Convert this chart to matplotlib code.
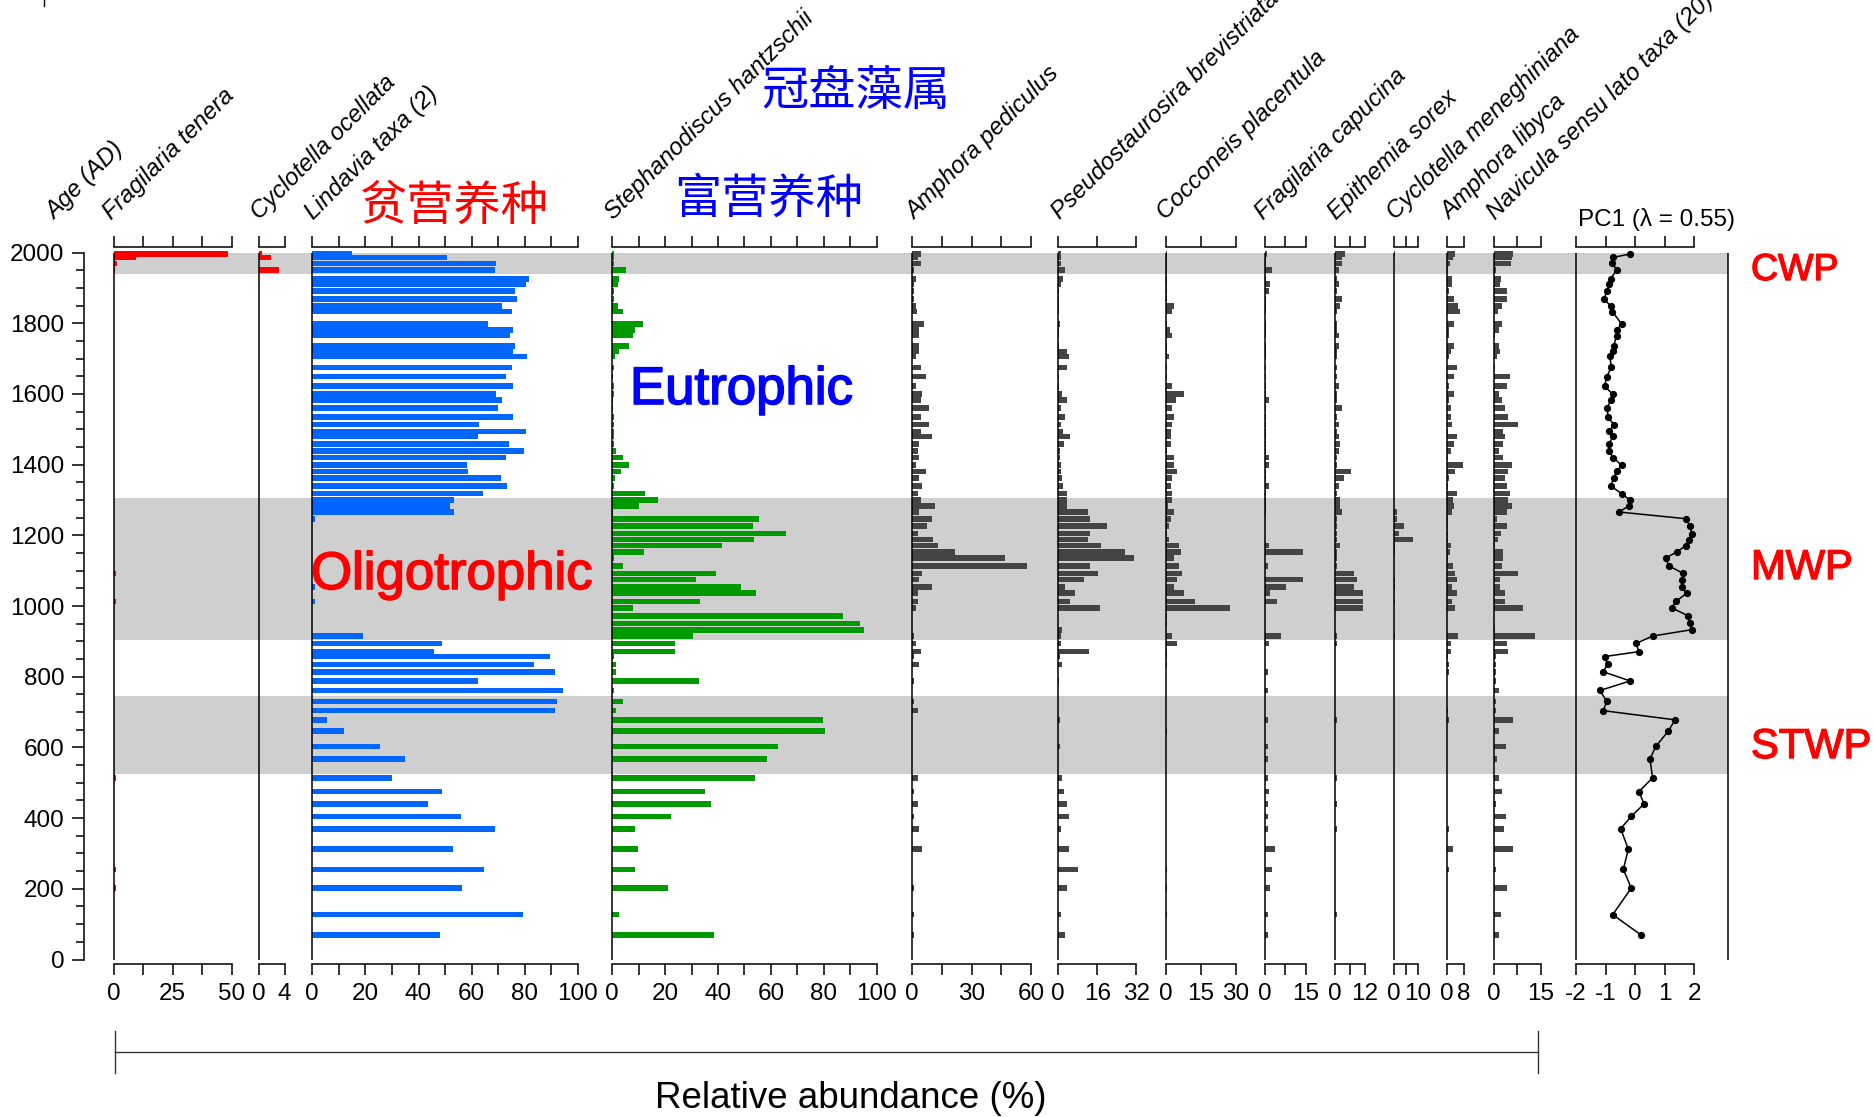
import matplotlib
matplotlib.use("Agg")
import matplotlib.pyplot as plt
import matplotlib.patheffects as pe
from matplotlib.lines import Line2D
from matplotlib.ticker import FixedLocator, FixedFormatter, MultipleLocator

# ---------------------------------------------------------------- data
ages = [1996, 1986, 1969, 1951, 1926, 1911, 1891, 1868, 1848, 1833,
        1798, 1780, 1765, 1736, 1720, 1706, 1675, 1649, 1622, 1599,
        1582, 1561, 1535, 1513, 1494, 1480, 1459, 1438, 1420, 1398,
        1381, 1362, 1340, 1318, 1300, 1283, 1266, 1247, 1227, 1205,
        1188, 1171, 1153, 1136, 1114, 1092, 1075, 1053, 1036, 1013,
        995, 972, 951, 933, 915, 894, 871, 857, 835, 814,
        788, 761, 730, 704, 678, 646, 603, 567, 514, 475,
        440, 405, 370, 312, 255, 202, 127, 70]

fragilaria_tenera = [48.3, 9.4, 1.4, 0.7, 0, 0, 0, 0, 0, 0,
                     0, 0, 0, 0, 0, 0, 0, 0, 0, 0,
                     0, 0, 0, 0, 0, 0, 0, 0, 0, 0,
                     0, 0, 0, 0, 0, 0, 0, 0, 0, 0,
                     0, 0, 0, 0, 0, 0.8, 0, 0, 0, 0.8,
                     0, 0, 0, 0, 0, 0, 0, 0, 0, 0,
                     0, 0, 0, 0, 0, 0, 0, 0, 0.8, 0,
                     0, 0, 0, 0, 0.8, 0.8, 0, 0]

cyclotella_ocellata = [0.5, 1.9, 0, 3.1, 0, 0, 0, 0, 0, 0,
                       0, 0, 0, 0, 0, 0, 0, 0, 0, 0,
                       0, 0, 0, 0, 0, 0, 0, 0, 0, 0,
                       0, 0, 0, 0, 0, 0, 0, 0, 0, 0,
                       0, 0, 0, 0, 0, 0, 0, 0, 0, 0,
                       0, 0, 0, 0, 0, 0, 0, 0, 0, 0,
                       0, 0, 0, 0, 0, 0, 0, 0, 0, 0,
                       0, 0, 0, 0, 0, 0, 0, 0]

lindavia = [14.9, 50.6, 69.3, 68.7, 81.5, 80.3, 76.3, 76.9, 71.6, 75.1,
            66.3, 75.7, 74.5, 76.3, 75.7, 80.9, 75.1, 72.9, 75.7, 69.3,
            71.6, 70.0, 75.7, 62.9, 80.3, 62.3, 73.9, 79.7, 72.9, 58.2,
            58.8, 71.1, 73.3, 64.1, 53.5, 51.8, 53.5, 0.9, 0, 0,
            0, 0, 0, 0, 0, 0, 0, 0.9, 0, 0.9,
            0, 0, 0, 0, 19.0, 48.8, 46.0, 89.6, 83.3, 91.5,
            62.3, 94.5, 92.1, 91.5, 5.6, 12.0, 25.4, 34.8, 30.0, 48.8,
            43.6, 55.9, 68.7, 53.0, 64.7, 56.5, 79.3, 48.2]

stephanodiscus = [0.8, 0.8, 0.5, 5.1, 2.7, 2.0, 0.8, 0.8, 2.0, 3.9,
                  11.5, 8.5, 8.0, 6.2, 2.7, 1.2, 0.8, 0.3, 0.8, 0.8,
                  0.3, 0.3, 0.8, 0.8, 0.8, 0.8, 0.8, 1.3, 4.1, 6.2,
                  3.2, 1.2, 0.8, 12.4, 17.3, 10.2, 0.3, 55.6, 53.2, 65.6,
                  53.7, 41.5, 12.0, 0.8, 3.9, 39.1, 31.5, 48.6, 54.4, 33.2,
                  8.0, 87.4, 93.8, 95.1, 30.4, 23.8, 23.8, 0.8, 1.3, 1.3,
                  32.7, 0.8, 3.9, 1.3, 79.7, 80.4, 62.7, 58.5, 53.9, 35.1,
                  37.3, 22.1, 8.6, 9.7, 8.6, 21.0, 2.7, 38.6]

amphora_pediculus = [4.2, 3.0, 4.2, 0.9, 1.8, 0.9, 0.9, 0.9, 1.8, 2.5,
                     5.9, 3.5, 3.5, 3.5, 3.5, 1.8, 4.2, 6.7, 1.8, 5.0,
                     4.2, 8.2, 4.2, 8.2, 4.2, 9.9, 3.5, 2.7, 3.5, 1.8,
                     6.7, 3.5, 5.0, 2.7, 4.2, 11.4, 3.5, 9.9, 7.5, 2.7,
                     10.7, 13.1, 21.7, 46.8, 57.8, 5.0, 3.5, 9.9, 2.7, 2.7,
                     1.8, 0, 0, 0, 0.9, 1.8, 4.2, 0.9, 3.5, 0,
                     0.9, 0, 0.9, 2.7, 0, 0, 0, 0, 2.7, 0.9,
                     2.7, 0.9, 3.5, 5.0, 0, 0.9, 0.9, 0.9]

pseudostaurosira = [1.0, 1.0, 1.0, 2.9, 2.1, 1.0, 0.3, 0.3, 0.3, 0.3,
                    0.7, 0.3, 0.3, 0.3, 3.4, 4.2, 3.4, 0.3, 0.3, 1.5,
                    3.4, 1.0, 2.9, 1.0, 2.1, 4.8, 2.3, 0.7, 0.7, 1.0,
                    1.0, 1.5, 2.1, 3.4, 3.4, 3.4, 12.3, 13.0, 20.0, 13.0,
                    12.3, 17.5, 27.2, 31.0, 13.0, 16.4, 10.5, 2.9, 6.7, 4.8,
                    17.1, 0, 0, 1.6, 1.0, 1.0, 12.7, 0.7, 1.6, 0,
                    0.3, 0, 0, 0, 0.7, 0, 0.7, 0, 1.6, 2.3,
                    3.6, 4.2, 1.0, 4.2, 8.1, 3.6, 1.0, 2.9]

cocconeis = [0.5, 0.5, 0.5, 0.5, 0.6, 0.6, 0.6, 0.7, 3.5, 2.8,
             0.5, 1.8, 2.8, 0.5, 0.5, 1.3, 0.5, 0.5, 2.8, 7.7,
             4.3, 2.8, 3.5, 2.8, 2.3, 2.3, 2.3, 0.5, 3.5, 3.5,
             4.9, 2.8, 2.3, 2.8, 2.8, 1.0, 3.5, 2.3, 1.6, 0.7,
             1.6, 5.6, 6.4, 3.5, 5.6, 7.0, 4.9, 3.5, 7.7, 12.4,
             27.6, 0.7, 0.7, 0, 2.8, 4.9, 0.5, 0.5, 0.5, 0,
             0, 0, 0, 0, 0, 0.5, 0, 0, 0, 0,
             0, 0, 0, 0, 0.4, 0.4, 0.4, 0]

fragilaria_capucina = [0.5, 0.3, 0.3, 2.5, 0.3, 1.9, 1.3, 0.3, 0.3, 0.3,
                       0.3, 0.3, 0.3, 0.3, 0.3, 0.3, 0.3, 0.3, 0.3, 0.3,
                       1.2, 0.3, 0.3, 0.3, 0.3, 0.3, 0.3, 0.3, 1.2, 1.2,
                       0.3, 0.3, 1.2, 0.3, 0.3, 0.3, 0.3, 0, 0, 0,
                       0, 1.5, 14.1, 0, 0.9, 0, 14.1, 7.7, 1.9, 4.2,
                       0, 0, 0, 0, 6.0, 1.3, 0, 0, 0, 0.9,
                       0, 0.9, 0, 0, 0.9, 0, 0.9, 0.9, 0.9, 1.3,
                       0.9, 0.9, 0.9, 3.7, 2.5, 1.9, 0.9, 0.9]

epithemia = [4.1, 2.8, 2.8, 1.4, 0.5, 1.4, 0.5, 2.8, 1.9, 0.5,
             0.6, 0.5, 1.4, 1.4, 0.5, 0.5, 0.5, 0.5, 1.4, 0.5,
             0.5, 2.8, 0.5, 1.4, 0.5, 1.4, 2.0, 1.4, 0.5, 0.5,
             6.4, 3.4, 1.4, 0.5, 2.0, 2.0, 2.8, 0.5, 0.5, 0.5,
             0.5, 2.0, 0.5, 0.5, 0.5, 7.7, 8.8, 7.7, 11.5, 11.5,
             11.5, 0, 0, 0, 0.8, 0.8, 0, 0, 0, 0,
             0, 0, 0, 0, 0.5, 0, 0, 0, 0.5, 0,
             0.5, 0, 0.5, 0, 0, 0, 0.8, 0]

cyclotella_meneghiniana = [0.6, 0, 0, 0, 0, 0, 0, 0, 0, 0,
                           0, 0, 0, 0, 0, 0, 0, 0, 0, 0,
                           0, 0, 0, 0, 0, 0, 0, 0, 0, 0,
                           0, 0, 0, 0, 0, 0, 1.3, 1.3, 4.2, 2.3,
                           8.2, 0.6, 0.6, 0, 0, 0, 0.4, 0.4, 0, 0.4,
                           0, 0, 0, 0, 0.4, 0, 0, 0, 0, 0,
                           0, 0, 0, 0, 0, 0, 0, 0, 0, 0,
                           0, 0, 0, 0, 0, 0, 0, 0]

amphora_libyca = [3.8, 2.7, 1.5, 0.7, 2.4, 2.4, 1.1, 3.3, 5.3, 6.0,
                  3.3, 1.1, 1.1, 3.3, 1.8, 1.1, 4.9, 3.3, 1.1, 3.3,
                  1.1, 1.8, 1.8, 2.4, 0.7, 4.9, 3.3, 1.8, 0.7, 7.5,
                  4.0, 0.8, 0.7, 4.9, 2.7, 3.3, 2.4, 0.7, 0.7, 0.7,
                  0.7, 1.8, 1.3, 0.7, 2.7, 4.0, 4.9, 2.4, 4.9, 2.4,
                  4.0, 0, 0, 0, 5.0, 1.8, 1.8, 0.7, 1.1, 1.1,
                  0, 0, 0, 0.7, 1.1, 0, 0, 0, 0, 0,
                  0, 0, 1.1, 2.7, 1.1, 0, 0, 0]

navicula = [6.3, 5.7, 5.5, 0.7, 2.2, 2.0, 4.1, 4.1, 2.8, 1.5,
            2.8, 1.7, 0.4, 1.7, 2.0, 1.2, 0.4, 5.2, 4.1, 1.7,
            2.8, 3.6, 4.7, 7.7, 3.1, 3.6, 3.1, 1.7, 3.1, 5.7,
            4.7, 3.6, 4.1, 5.2, 4.7, 5.7, 4.1, 1.0, 4.1, 2.2,
            1.3, 0.4, 3.1, 3.1, 2.6, 7.7, 2.0, 2.0, 3.6, 3.6,
            9.3, 0.2, 0.2, 0.4, 13.2, 4.1, 4.6, 0.6, 0.6, 0.6,
            0.6, 1.6, 0.6, 0.6, 6.3, 1.6, 3.8, 1.2, 1.6, 2.6,
            0.6, 3.8, 3.3, 6.3, 0.6, 4.4, 2.3, 1.6]

pc1 = [-0.17, -0.74, -0.77, -0.62, -0.83, -0.87, -0.96, -1.05, -0.82, -0.77,
       -0.46, -0.63, -0.63, -0.72, -0.74, -0.85, -0.81, -0.96, -1.03, -0.76,
       -0.83, -0.94, -0.92, -0.72, -0.89, -0.74, -0.89, -0.89, -0.74, -0.46,
       -0.63, -0.72, -0.83, -0.46, -0.18, -0.21, -0.55, 1.71, 1.85, 1.91,
       1.81, 1.72, 1.41, 1.04, 1.13, 1.63, 1.58, 1.58, 1.74, 1.38,
       1.23, 1.80, 1.85, 1.91, 0.59, 0.03, 0.13, -1.03, -0.93, -1.08,
       -0.17, -1.19, -0.96, -1.08, 1.35, 1.12, 0.70, 0.50, 0.59, 0.13,
       0.30, -0.13, -0.49, -0.23, -0.40, -0.13, -0.76, 0.19]

taxa_names = ["Fragilaria tenera", "Cyclotella ocellata", "Lindavia taxa (2)",
              "Stephanodiscus hantzschii", "Amphora pediculus",
              "Pseudostaurosira brevistriata", "Cocconeis placentula",
              "Fragilaria capucina", "Epithemia sorex",
              "Cyclotella meneghiniana", "Amphora libyca",
              "Navicula sensu lato taxa (20)"]

# warm periods (age ranges, AD)
periods = ["CWP", "MWP", "STWP"]
period_ranges = [(1940, 2000), (905, 1305), (526, 746)]

# ---------------------------------------------------------------- style
plt.rcParams['font.family'] = ['Liberation Sans', 'DejaVu Sans']
plt.rcParams['axes.unicode_minus'] = False

W, H = 1874, 1117
fig = plt.figure(figsize=(W / 100, H / 100), dpi=100)

TOP, BOT = 247, 964          # pixel rows of the top/bottom panel spines
YLIM = (-12.7, 2015.6)
TICK_FS = 17.5
LW = 1.1
BAR_H = 16

RED, BLUE, GREEN, GREY = '#ff0000', '#0066ff', '#009900', '#444444'


def fx(px):
    return px / W


def fy(py):
    return 1 - py / H


def panel_axes(x0, x1):
    ax = fig.add_axes([fx(x0), fy(BOT), (x1 - x0) / W, (BOT - TOP) / H])
    ax.set_facecolor('none')
    ax.set_ylim(*YLIM)
    return ax


def heavy(color, w):
    return [pe.withStroke(linewidth=w, foreground=color)]


# shaded warm periods behind all panels
bg = panel_axes(113.8, 1728.3)
bg.set_xlim(0, 1)
bg.axis('off')
for lo, hi in period_ranges:
    bg.axhspan(lo, hi, color='#cfcfcf', lw=0, zorder=0)

# age axis
yax = panel_axes(83.8, 84.8)
for s in ['top', 'right', 'bottom']:
    yax.spines[s].set_visible(False)
yax.spines['left'].set_bounds(0, 2000)
yax.spines['left'].set_linewidth(LW)
yax.set_xticks([])
yax.yaxis.set_major_locator(MultipleLocator(200))
yax.yaxis.set_minor_locator(MultipleLocator(50))
yax.tick_params(axis='y', which='major', length=9, width=LW, labelsize=TICK_FS, pad=5)
yax.tick_params(axis='y', which='minor', length=6, width=LW)

# panel layout: pixel extent, x range, ticks, labelled ticks, colour
layout = [
    (113.8, 231.6, 50, [0, 12.5, 25, 37.5, 50], [0, 25, 50], RED),
    (259.3, 284.6, 4, [0, 4], [0, 4], RED),
    (312.3, 577.9, 100, list(range(0, 101, 10)), list(range(0, 101, 20)), BLUE),
    (612.3, 876.7, 100, list(range(0, 101, 10)), list(range(0, 101, 20)), GREEN),
    (912.3, 1031.0, 60, [0, 15, 30, 45, 60], [0, 30, 60], GREY),
    (1058.3, 1136.3, 32, [0, 16, 32], [0, 16, 32], GREY),
    (1165.7, 1236.0, 30, [0, 15, 30], [0, 15, 30], GREY),
    (1265.3, 1305.7, 15, [0, 7.5, 15], [0, 15], GREY),
    (1335.3, 1364.7, 12, [0, 6, 12], [0, 12], GREY),
    (1394.0, 1417.7, 10, [0, 5, 10], [0, 10], GREY),
    (1447.0, 1464.0, 8, [0, 8], [0, 8], GREY),
    (1493.7, 1540.7, 15, [0, 7.5, 15], [0, 15], GREY),
]
series = [fragilaria_tenera, cyclotella_ocellata, lindavia, stephanodiscus,
          amphora_pediculus, pseudostaurosira, cocconeis, fragilaria_capucina,
          epithemia, cyclotella_meneghiniana, amphora_libyca, navicula]


def style_x(ax, ticks, labelled):
    for s in ['left', 'right']:
        ax.spines[s].set_visible(False)
    for s in ['top', 'bottom']:
        ax.spines[s].set_bounds(ticks[0], ticks[-1])
        ax.spines[s].set_linewidth(LW)
    ax.set_yticks([])
    ax.xaxis.set_major_locator(FixedLocator(ticks))
    ax.xaxis.set_major_formatter(FixedFormatter(
        [f"{t:g}" if t in labelled else "" for t in ticks]))
    ax.tick_params(axis='x', which='both', direction='out', length=8, width=LW,
                   top=True, bottom=True, labeltop=False, labelbottom=True,
                   labelsize=TICK_FS, pad=6)


for (x0, x1, xmax, ticks, labelled, col), vals in zip(layout, series):
    ax = panel_axes(x0, x1)
    ax.set_xlim(0, xmax)
    ax.barh(ages, vals, height=BAR_H, left=0, color=col, lw=0, zorder=2)
    ax.vlines(0, 0, 2000, color='black', lw=LW, zorder=3, clip_on=False)
    style_x(ax, ticks, labelled)

# PC1 curve
pax = panel_axes(1576.0, 1728.3)
pax.set_xlim(-2, 3.15)
pax.plot(pc1, ages, color='black', lw=1.1, marker='o', ms=4.2, zorder=3)
pax.vlines([-2, 3.15], 0, 2000, color='black', lw=LW, zorder=3, clip_on=False)
style_x(pax, [-2, -1, 0, 1, 2], [-2, -1, 0, 1, 2])

# ---------------------------------------------------------------- text
label_x = [99, 247, 301, 601, 902, 1047, 1153, 1251, 1324, 1383, 1437, 1483]
fig.text(fx(41.8), fy(224), "Age (AD)", rotation=45, ha='left', va='bottom',
         fontstyle='italic', fontsize=17.3)
for name, x in zip(taxa_names, label_x):
    fig.text(fx(x), fy(224), name, rotation=45, ha='left', va='bottom',
             fontstyle='italic', fontsize=17.3)

fig.text(fx(1578), fy(226), "PC1 (λ = 0.55)", ha='left', va='baseline', fontsize=17.5)

cjk = ['Noto Sans CJK SC', 'DejaVu Sans']
fig.text(fx(454), fy(206), "贫营养种", color=RED, fontsize=34, family=cjk,
         ha='center', va='center')
fig.text(fx(769), fy(199), "富营养种", color='#0000ff', fontsize=34, family=cjk,
         ha='center', va='center')
fig.text(fx(856), fy(92), "冠盘藻属", color='#0000ff', fontsize=34, family=cjk,
         ha='center', va='center')

fig.text(fx(311), fy(589), "Oligotrophic", color=RED, fontsize=38,
         ha='left', va='baseline', path_effects=heavy(RED, 1.2))
fig.text(fx(630), fy(404), "Eutrophic", color='#0000ff', fontsize=38,
         ha='left', va='baseline', path_effects=heavy('#0000ff', 1.2))

period_sizes = [27, 30, 30]
period_baselines = [280, 579, 758]
for name, fs, yb in zip(periods, period_sizes, period_baselines):
    fig.text(fx(1751), fy(yb), name, color=RED, fontsize=fs, ha='left',
             va='baseline', path_effects=heavy(RED, 1.0))

# relative-abundance bracket
fig.add_artist(Line2D([fx(115), fx(1538.3)], [fy(1051.7)] * 2, color='#333333', lw=1))
for xe in (115, 1538.3):
    fig.add_artist(Line2D([fx(xe)] * 2, [fy(1031), fy(1073)], color='#333333', lw=1))
fig.text(fx(851), fy(1108), "Relative abundance (%)", fontsize=26.5,
         ha='center', va='baseline')

fig.add_artist(Line2D([fx(44)] * 2, [fy(0), fy(6)], color='black', lw=1))

fig.savefig("out.png", dpi=100)
